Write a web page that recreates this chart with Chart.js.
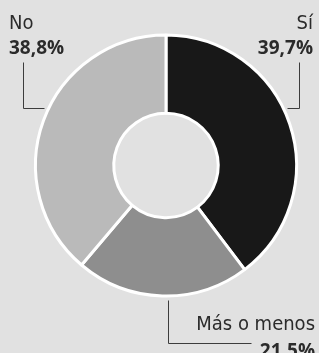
<!DOCTYPE html>
<html>
<head>
<meta charset="utf-8">
<script src="https://cdn.jsdelivr.net/npm/chart.js@4"></script>
<style>
  html, body { margin: 0; padding: 0; background: #e1e1e1; }
  #wrap { position: relative; width: 319px; height: 353px; overflow: hidden; }
</style>
</head>
<body>
<div id="wrap"><canvas id="pieChart" width="319" height="353"></canvas></div>
<script>
// answers, clockwise from 12 o'clock
const labels = ['Sí', 'Más o menos', 'No'];
const values = [39.7, 21.5, 38.8];
const sliceColors = ['#181818', '#8e8e8e', '#bababa'];

const LABEL_FONT = '20px "DejaVu Sans Condensed", "Open Sans", sans-serif';
const VALUE_FONT = 'bold 19px "Open Sans", "Liberation Sans", sans-serif';
const fmt = v => v.toFixed(1).replace('.', ',') + '%';

// label anchors + leader lines (canvas px)
const calloutSpec = [
  { align: 'right', x: 313, y1: 29, y2: 54, line: [[299, 62], [299, 108], [287, 108]] },
  { align: 'right', x: 315, y1: 330, y2: 357, line: [[168, 300], [168, 343], [251, 343]] },
  { align: 'left', x: 9, y1: 29, y2: 54, line: [[23, 62], [23, 108], [44, 108]] }
];

const callouts = {
  id: 'callouts',
  afterDraw(chart) {
    const c = chart.ctx;
    c.save();
    calloutSpec.forEach((s, i) => {
      c.strokeStyle = '#3c3c3c';
      c.lineWidth = 1;
      c.beginPath();
      s.line.forEach((p, j) => j ? c.lineTo(p[0] + 0.5, p[1] + 0.5) : c.moveTo(p[0] + 0.5, p[1] + 0.5));
      c.stroke();

      c.fillStyle = '#2b2b2b';
      c.textAlign = s.align;
      c.textBaseline = 'alphabetic';
      c.font = LABEL_FONT;
      c.fillText(labels[i], s.x, s.y1);
      c.font = VALUE_FONT;
      c.fillText(fmt(values[i]), s.x, s.y2);
    });
    c.restore();
  }
};

new Chart(document.getElementById('pieChart'), {
  type: 'doughnut',
  data: {
    labels: labels,
    datasets: [{
      data: values,
      backgroundColor: sliceColors,
      borderColor: '#ffffff',
      borderWidth: 3
    }]
  },
  options: {
    responsive: false,
    animation: false,
    cutout: '40%',
    layout: { padding: { left: 34, right: 21, top: 33, bottom: 55 } },
    plugins: {
      legend: { display: false },
      tooltip: { enabled: false }
    }
  },
  plugins: [callouts]
});
</script>
</body>
</html>
